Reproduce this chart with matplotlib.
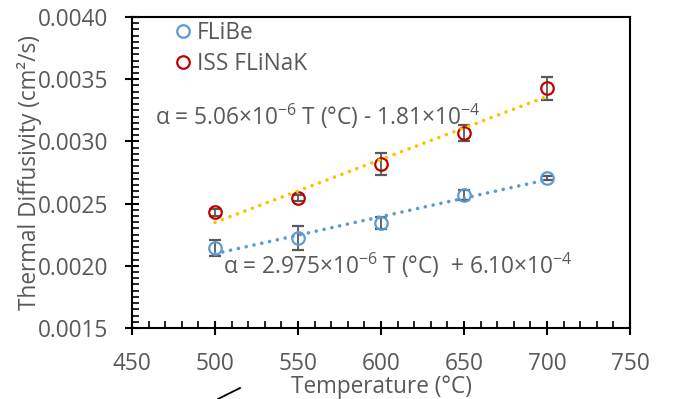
import matplotlib
matplotlib.use("Agg")
import matplotlib.pyplot as plt
from matplotlib.lines import Line2D
from matplotlib.ticker import MultipleLocator, FormatStrFormatter
import numpy as np

# Data
temps = [500, 550, 600, 650, 700]
flibe = [0.002143, 0.002223, 0.002342, 0.002569, 0.002703]
flibe_err = [0.000064, 0.000100, 0.000047, 0.000040, 0.000015]
flinak = [0.002430, 0.002547, 0.002818, 0.003070, 0.003427]
flinak_err = [0.000030, 0.000025, 0.000090, 0.000063, 0.000094]

# Linear fits printed on the chart (slope, intercept)
flibe_fit = [2.975e-6, 6.10e-4]
flinak_fit = [5.06e-6, -1.81e-4]

plt.rcParams['font.family'] = ['Open Sans', 'DejaVu Sans']
plt.rcParams['mathtext.fontset'] = 'custom'
plt.rcParams['mathtext.rm'] = 'Open Sans'
plt.rcParams['mathtext.it'] = 'Open Sans'

grey = '#595959'
blue = '#5B9BD5'
red = '#C00000'
orange = '#FFC000'
fs = 16.3

fig = plt.figure(figsize=(6.75, 3.99), dpi=100)
ax = fig.add_axes([132/675, 1 - 328/399, 498/675, 311/399])

t = np.array(temps, dtype=float)
ax.plot(t, flibe_fit[0]*t + flibe_fit[1], ls=(0, (0.01, 2.2)), lw=2.6,
        color=blue, dash_capstyle='round', zorder=4)
ax.plot(t, flinak_fit[0]*t + flinak_fit[1], ls=(0, (0.01, 2.2)), lw=2.6,
        color=orange, dash_capstyle='round', zorder=4)

ax.errorbar(temps, flibe, yerr=flibe_err, fmt='o', mfc='none', mec=blue, mew=1.6,
            ms=9, ecolor=grey, elinewidth=1.3, capsize=4, capthick=1.3,
            label='FLiBe', zorder=3)
ax.errorbar(temps, flinak, yerr=flinak_err, fmt='o', mfc='none', mec=red, mew=1.6,
            ms=9, ecolor=grey, elinewidth=1.3, capsize=4, capthick=1.3,
            label='ISS FLiNaK', zorder=3)

ax.set_xlim(450, 750)
ax.set_ylim(0.0015, 0.0040)
ax.xaxis.set_major_locator(MultipleLocator(50))
ax.xaxis.set_minor_locator(MultipleLocator(10))
ax.yaxis.set_major_locator(MultipleLocator(0.0005))
ax.yaxis.set_minor_locator(MultipleLocator(0.00005))
ax.yaxis.set_major_formatter(FormatStrFormatter('%.4f'))

for s in ax.spines.values():
    s.set_linewidth(1.5)
    s.set_color('black')
ax.tick_params(which='major', direction='inout', length=10, width=1.5,
               labelsize=fs, labelcolor=grey, pad=12)
ax.tick_params(which='minor', direction='in', length=5, width=1.2)

ax.set_xlabel('Temperature (°C)', fontsize=fs, color=grey, labelpad=-0.5)
ax.set_ylabel('Thermal Diffusivity (cm²/s)', fontsize=fs, color=grey, labelpad=-3)

handles = [Line2D([], [], marker='o', ls='none', mfc='none', mec=blue, mew=1.6, ms=9),
           Line2D([], [], marker='o', ls='none', mfc='none', mec=red, mew=1.6, ms=9)]
ax.legend(handles, ['FLiBe', 'ISS FLiNaK'], loc='upper left', frameon=False,
          fontsize=fs, labelcolor=grey, handletextpad=0.1, handlelength=1.0,
          borderaxespad=0.0, labelspacing=0.28, bbox_to_anchor=(0.062, 1.015))

ax.text(155, 399 - 116, r'α = 5.06×10$^{-6}$ T (°C) - 1.81×10$^{-4}$', transform=None,
        fontsize=fs, color=grey, va='center', ha='left')
ax.text(223, 399 - 265, r'α = 2.975×10$^{-6}$ T (°C)  + 6.10×10$^{-4}$', transform=None,
        fontsize=fs, color=grey, va='center', ha='left')

# stray stroke under the axis
fig.add_artist(Line2D([218/675, 240/675], [1 - 399/399, 1 - 388/399],
                      color='black', lw=1.3))

fig.savefig('out.png', dpi=100)
